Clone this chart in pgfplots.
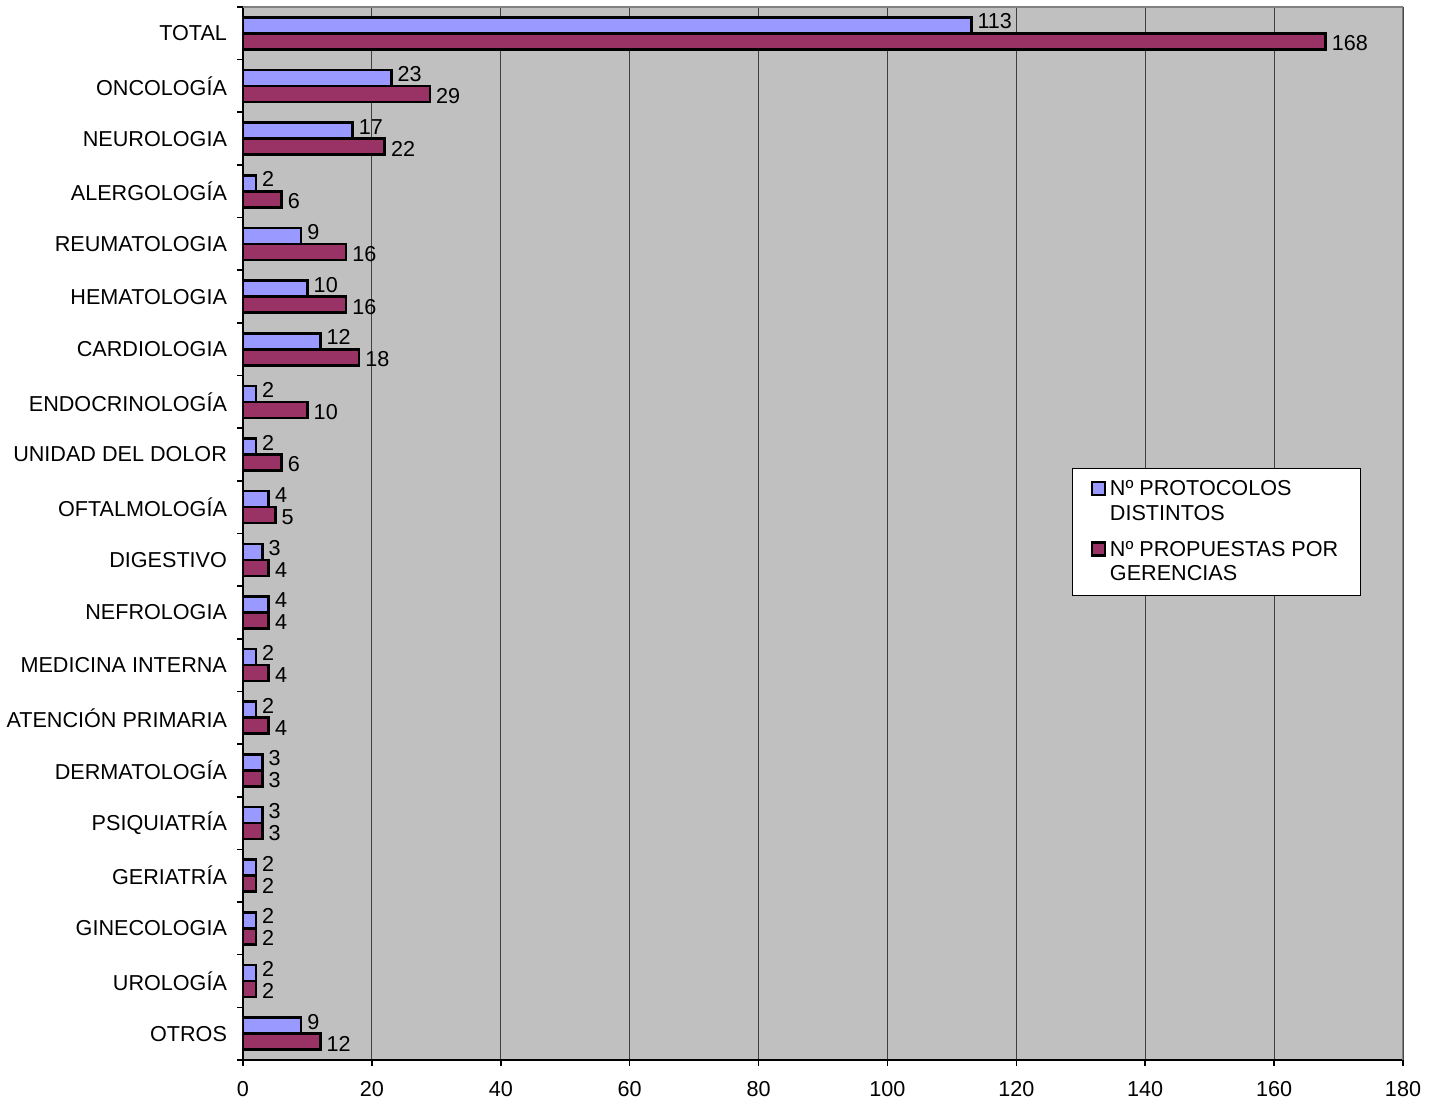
\documentclass[border=0pt]{standalone}
\usepackage{pgfplots}
\pgfplotsset{compat=1.18}
\usepackage{pgfplotstable}
\usepackage{fontspec}
\setmainfont{Liberation Sans}
\definecolor{barblue}{HTML}{9999FF}
\definecolor{barred}{HTML}{993366}
\definecolor{plotbg}{HTML}{C0C0C0}

% y: 19 = TOTAL (top) ... 0 = OTROS (bottom)
\pgfplotstableread{
y  prot prop
19 113 168
18 23 29
17 17 22
16 2 6
15 9 16
14 10 16
13 12 18
12 2 10
11 2 6
10 4 5
9  3 4
8  4 4
7  2 4
6  2 4
5  3 3
4  3 3
3  2 2
2  2 2
1  2 2
0  9 12
}\datatable

\begin{document}
\begin{tikzpicture}
\begin{axis}[
  scale only axis,
  width=580pt, height=526.5pt,
  xbar, bar width=8pt,
  xmin=0, xmax=180, ymin=-0.5, ymax=19.5,
  xtick={0,20,...,180},
  ytick={0,...,19},
  yticklabels={OTROS,UROLOGÍA,GINECOLOGIA,GERIATRÍA,PSIQUIATRÍA,DERMATOLOGÍA,ATENCIÓN PRIMARIA,MEDICINA INTERNA,NEFROLOGIA,DIGESTIVO,OFTALMOLOGÍA,{UNIDAD DEL DOLOR\ },ENDOCRINOLOGÍA,CARDIOLOGIA,HEMATOLOGIA,REUMATOLOGIA,ALERGOLOGÍA,NEUROLOGIA,ONCOLOGÍA,TOTAL},
  minor ytick={-0.5,0.5,...,19.5},
  major y tick style={draw=none},
  axis x line*=bottom, axis y line*=left,
  axis line style={black, line width=0.8pt},
  tick align=outside, tick style={black, line width=0.8pt},
  major tick length=3pt, minor tick length=3pt,
  xmajorgrids, grid style={black!75, line width=0.6pt},
  axis background/.style={fill=plotbg},
  /pgf/number format/assume math mode=true,
  tick label style={font=\fontsize{10.8}{13}\selectfont},
  yticklabel style={xshift=-1.5pt},
  xticklabel style={yshift=-4pt},
  nodes near coords,
  every node near coord/.append style={font=\fontsize{10.8}{13}\selectfont, black, anchor=west, inner sep=2.5pt},
  legend style={at={(rel axis cs:0.7147,0.5622)}, anchor=north west, draw=black, line width=0.5pt, fill=white,
    font=\fontsize{10.8}{12.3}\selectfont, cells={anchor=west, align=left}, row sep=5pt, inner xsep=9pt, inner ysep=4pt},
  legend image code/.code={\draw[#1, line width=1.2pt] (0pt,3.5pt) rectangle (6.5pt,10pt);},
]
\addplot[fill=barblue, draw=black, line width=1.3pt, bar shift=4pt,
  every node near coord/.append style={yshift=2pt}] table[x=prot, y=y] {\datatable};
\addlegendentry{Nº PROTOCOLOS\\DISTINTOS}
\addplot[fill=barred, draw=black, line width=1.3pt, bar shift=-4pt,
  every node near coord/.append style={yshift=-1pt}] table[x=prop, y=y] {\datatable};
\addlegendentry{Nº PROPUESTAS POR\\GERENCIAS}
\draw[black!50, line width=0.8pt] (rel axis cs:0,1) -- (rel axis cs:1,1) -- (rel axis cs:1,0);
\coordinate (bl) at (rel axis cs:0,0);
\coordinate (tr) at (rel axis cs:1,1);
\end{axis}
\pgfresetboundingbox
\path[use as bounding box] ([shift={(-121.5pt,-21.5pt)}]bl) rectangle ([shift={(18.5pt,3.5pt)}]tr);
\end{tikzpicture}
\end{document}
